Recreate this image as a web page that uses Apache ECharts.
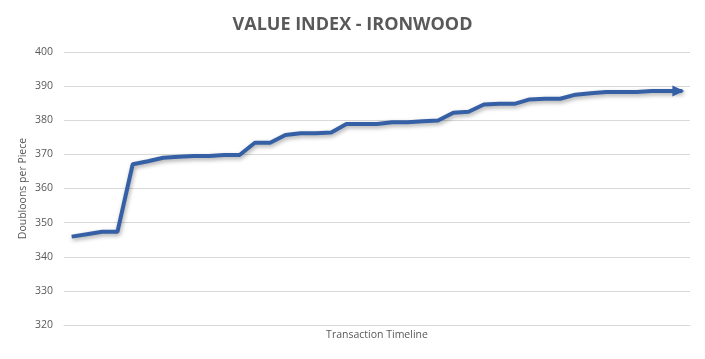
<!DOCTYPE html>
<html>
<head>
<meta charset="utf-8">
<script src="https://cdn.jsdelivr.net/npm/echarts@6/dist/echarts.min.js"></script>
<style>
html,body{margin:0;padding:0;background:#fff;}
#chart{width:705px;height:359px;}
</style>
</head>
<body>
<div id="chart"></div>
<script>
var titleText = 'VALUE INDEX - IRONWOOD';
var yAxisName = 'Doubloons per Piece';
var xAxisName = 'Transaction Timeline';
var categories = ['1','2','3','4','5','6','7','8','9','10','11','12','13','14','15','16','17','18','19','20','21','22','23','24','25','26','27','28','29','30','31','32','33','34','35','36','37','38','39','40','41'];
var values = [345.9, 346.6, 347.3, 347.3, 367.1, 368.0, 369.0, 369.3, 369.5, 369.5,
              369.8, 369.8, 373.4, 373.4, 375.7, 376.2, 376.2, 376.4, 378.9, 378.9,
              378.9, 379.4, 379.4, 379.7, 379.9, 382.2, 382.5, 384.6, 384.8, 384.8,
              386.1, 386.3, 386.3, 387.5, 387.9, 388.3, 388.3, 388.3, 388.6, 388.6, 388.6];
var yMin = 320, yMax = 400, yStep = 10;

var lineColor = '#3560A6';
var seriesData = values.map(function (v, i) {
  if (i === values.length - 1) {
    return { value: v, symbol: 'triangle', symbolSize: [11, 12], symbolRotate: -90,
             symbolOffset: [-4, 0], itemStyle: { color: lineColor, opacity: 1 } };
  }
  return { value: v, symbol: 'none' };
});

var chart = echarts.init(document.getElementById('chart'), null, { renderer: 'canvas' });
chart.setOption({
  animation: false,
  backgroundColor: '#ffffff',
  title: {
    text: titleText,
    left: 'center',
    top: 11,
    textStyle: { fontFamily: 'Open Sans', fontWeight: 'bold', fontSize: 18, color: '#595959' }
  },
  grid: { left: 64, right: 15, top: 52, bottom: 34, containLabel: false },
  xAxis: {
    type: 'category',
    data: categories,
    boundaryGap: true,
    name: xAxisName,
    nameLocation: 'middle',
    nameGap: 5,
    nameMoveOverlap: false,
    nameTextStyle: { fontFamily: 'Open Sans', fontSize: 10.5, color: '#595959', verticalAlign: 'top' },
    axisLine: { show: true, lineStyle: { color: '#d9d9d9', width: 1 } },
    axisTick: { show: false },
    axisLabel: { show: false },
    splitLine: { show: false }
  },
  yAxis: {
    type: 'value',
    min: yMin,
    max: yMax,
    interval: yStep,
    name: yAxisName,
    nameLocation: 'middle',
    nameGap: 35,
    nameRotate: 90,
    nameMoveOverlap: false,
    nameTextStyle: { fontFamily: 'Open Sans', fontSize: 10.5, color: '#595959' },
    axisLine: { show: false },
    axisTick: { show: false },
    axisLabel: { fontFamily: 'Open Sans', fontSize: 10.5, color: '#595959', margin: 11 },
    splitLine: { lineStyle: { color: '#d9d9d9', width: 1 } }
  },
  series: [{
    type: 'line',
    data: seriesData,
    showSymbol: true,
    showAllSymbol: true,
    lineStyle: {
      color: lineColor, width: 4,
      shadowColor: 'rgba(0,0,0,0.35)', shadowBlur: 4, shadowOffsetX: 1, shadowOffsetY: 2
    },
    itemStyle: { color: lineColor },
    z: 3
  }]
});
</script>
</body>
</html>
